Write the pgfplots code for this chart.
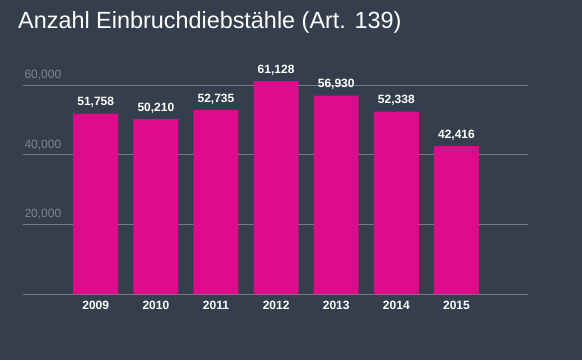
\documentclass[border=0pt]{standalone}
\usepackage{fontspec}
\setmainfont{Liberation Sans}
\usepackage{pgfplots}
\pgfplotsset{compat=1.18}
\definecolor{bg}{HTML}{343E4C}
\definecolor{barc}{HTML}{DC0C8C}
\definecolor{gridc}{HTML}{737B85}
\definecolor{ticklab}{HTML}{7E858E}
\begin{document}
\begin{tikzpicture}[x=1pt,y=1pt]
\fill[bg] (0,0) rectangle (582,360);
\node[anchor=base west, text=white, font=\fontsize{23.4}{27}\selectfont, inner sep=0] at (18,332) {Anzahl Einbruchdiebstähle (Art. 139)};
\begin{axis}[
  at={(23pt,66pt)}, anchor=south west,
  scale only axis, width=505pt, height=226.5pt,
  xmin=-1.21, xmax=7.19, ymin=0, ymax=65000,
  clip=false,
  scaled y ticks=false,
  axis line style={draw=none},
  major tick length=0pt,
  ymajorgrids, grid style={gridc, line width=0.8pt},
  xtick={0,1,2,3,4,5,6},
  xticklabels={2009,2010,2011,2012,2013,2014,2015},
  xticklabel style={text=white, font=\bfseries\fontsize{12}{14}\selectfont, yshift=-4pt},
  ytick={0,20000,40000,60000},
  yticklabels={,{20,000},{40,000},{60,000}},
  yticklabel style={anchor=south west, text=ticklab, font=\fontsize{12}{14}\selectfont, xshift=-2pt, yshift=1.5pt},
  ybar, bar width=45pt,
  /pgf/number format/assume math mode=true,
  /pgf/number format/1000 sep={,},
  nodes near coords,
  nodes near coords style={text=white, font=\bfseries\fontsize{12}{14}\selectfont, yshift=2.5pt},
]
\addplot[fill=barc, draw=none] coordinates {(0,51758) (1,50210) (2,52735) (3,61128) (4,56930) (5,52338) (6,42416)};
\end{axis}
\end{tikzpicture}
\end{document}
